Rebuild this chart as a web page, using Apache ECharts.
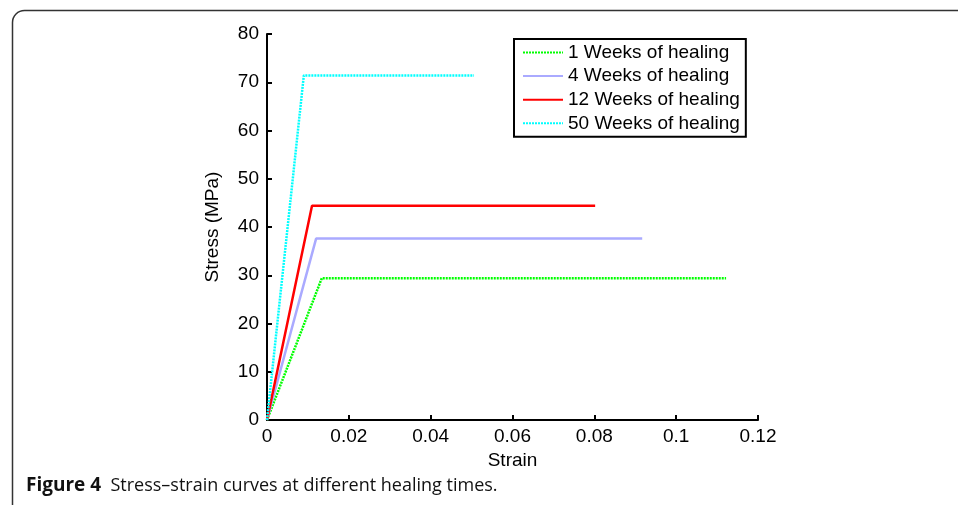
<!DOCTYPE html>
<html>
<head>
<meta charset="utf-8">
<script src="https://cdn.jsdelivr.net/npm/echarts@6/dist/echarts.min.js"></script>
<style>
html,body{margin:0;padding:0;background:#fff;}
#chart{width:958px;height:505px;}
</style>
</head>
<body>
<div id="chart"></div>
<script>
var seriesNames = ['1 Weeks of healing', '4 Weeks of healing', '12 Weeks of healing', '50 Weeks of healing'];
var strain1 = [0, 0.0134, 0.1122];
var stress1 = [0, 29.4, 29.4];
var strain4 = [0, 0.0120, 0.0917];
var stress4 = [0, 37.6, 37.6];
var strain12 = [0, 0.0110, 0.0802];
var stress12 = [0, 44.4, 44.4];
var strain50 = [0, 0.0090, 0.0506];
var stress50 = [0, 71.4, 71.4];
var xTicks = [0, 0.02, 0.04, 0.06, 0.08, 0.1, 0.12];
var yTicks = [0, 10, 20, 30, 40, 50, 60, 70, 80];

function pairs(xs, ys) { return xs.map(function (x, i) { return [x, ys[i]]; }); }

var colors = ['#00ff00', '#aaaaff', '#ff0000', '#00ffff'];
var styles = [[2, 1], 'solid', 'solid', [2, 1]];
var dataSets = [pairs(strain1, stress1), pairs(strain4, stress4), pairs(strain12, stress12), pairs(strain50, stress50)];

var chart = echarts.init(document.getElementById('chart'), null, {renderer: 'canvas'});
var font = '"Liberation Sans", Arial, sans-serif';
var option = {
  animation: false,
  backgroundColor: '#ffffff',
  grid: {left: 267, right: 200, top: 34, bottom: 85, containLabel: false},
  xAxis: {
    type: 'value', min: 0, max: 0.12, interval: 0.02,
    name: 'Strain', nameLocation: 'middle', nameGap: 26,
    nameTextStyle: {fontFamily: font, fontSize: 19, color: '#000'},
    axisLine: {show: true, onZero: false, lineStyle: {color: '#000', width: 2}},
    axisTick: {show: true, inside: true, length: 5, lineStyle: {color: '#000', width: 2}},
    axisLabel: {fontFamily: font, fontSize: 19, color: '#000', margin: 7,
      formatter: function (v) { var s = xTicks.find(function (t) { return Math.abs(t - v) < 1e-9; }); return s === undefined ? '' : String(s); }},
    splitLine: {show: false}
  },
  yAxis: {
    type: 'value', min: 0, max: 80, interval: 10,
    name: 'Stress (MPa)', nameLocation: 'middle', nameGap: 45,
    nameTextStyle: {fontFamily: font, fontSize: 19, color: '#000'},
    axisLine: {show: true, onZero: false, lineStyle: {color: '#000', width: 2}},
    axisTick: {show: true, inside: true, length: 5, lineStyle: {color: '#000', width: 2}},
    axisLabel: {fontFamily: font, fontSize: 19, color: '#000', margin: 8,
      formatter: function (v) { return yTicks.indexOf(v) >= 0 ? String(v) : ''; }},
    splitLine: {show: false}
  },
  legend: {
    show: true,
    orient: 'vertical',
    left: 514, top: 39,
    padding: [4, 6, 4, 8],
    itemGap: 4.6,
    itemWidth: 40, itemHeight: 16,
    borderColor: '#000', borderWidth: 2,
    backgroundColor: '#fff',
    itemStyle: {opacity: 0},
    textStyle: {fontFamily: font, fontSize: 19, lineHeight: 16, color: '#000'},
    data: seriesNames
  },
  series: seriesNames.map(function (n, i) {
    return {
      name: n, type: 'line', data: dataSets[i],
      symbol: 'none', showSymbol: false,
      lineStyle: {color: colors[i], width: 2.5, type: styles[i]},
      itemStyle: {color: colors[i]},
      z: 2 + i
    };
  }),
  graphic: [
    {type: 'rect', left: 10, top: 8, silent: true, z: 100,
      shape: {width: 980, height: 520, r: 12},
      style: {fill: 'none', stroke: '#333', lineWidth: 1.5}},
    {type: 'text', left: 26, top: 476, z: 100,
      style: {
        text: '{b|Figure 4}  Stress–strain curves at different healing times.',
        font: '18px "Open Sans", "Noto Sans", sans-serif',
        fill: '#111',
        rich: {b: {fontWeight: 'bold', fontSize: 19, fontFamily: '"Open Sans", "Noto Sans", sans-serif', fill: '#111'}}
      }}
  ]
};
chart.setOption(option);
</script>
</body>
</html>
